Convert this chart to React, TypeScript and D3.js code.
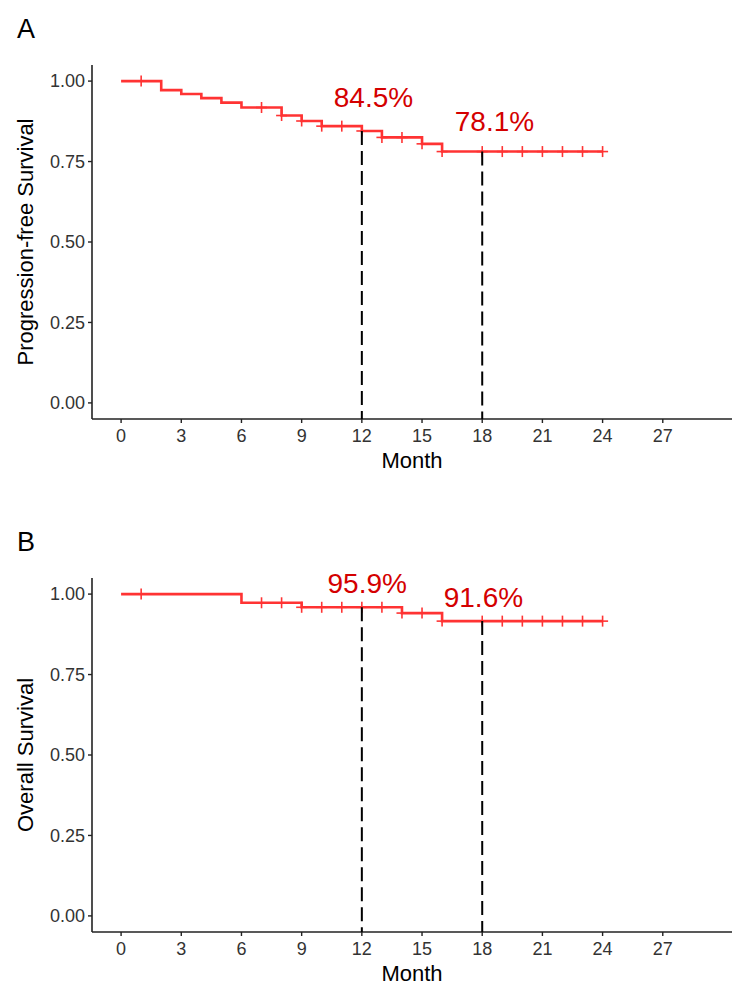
import React from "react";
import * as d3 from "d3";

// ---- Data ----
const pfsTimes = [0, 2, 3, 4, 5, 6, 8, 9, 10, 12, 13, 15, 16];
const pfsSurv = [1.0, 0.972, 0.96, 0.947, 0.933, 0.918, 0.893, 0.876, 0.86, 0.845, 0.825, 0.805, 0.781];
const pfsEnd = 24;
const pfsCensor = [1, 7, 8, 9, 10, 11, 12, 13, 14, 15, 16, 18, 19, 20, 21, 22, 23, 24];

const osTimes = [0, 6, 9, 14, 16];
const osSurv = [1.0, 0.973, 0.959, 0.941, 0.916];
const osEnd = 24;
const osCensor = [1, 7, 8, 9, 10, 11, 12, 13, 14, 15, 16, 18, 19, 20, 21, 22, 23, 24];

const markTimes = [12, 18];
const pfsLabels = ["84.5%", "78.1%"];
const pfsLabelX = [12.58, 18.61];
const pfsLabelY = [0.921, 0.844];
const osLabels = ["95.9%", "91.6%"];
const osLabelX = [12.27, 18.06];
const osLabelY = [1.002, 0.961];

const xTicks = [0, 3, 6, 9, 12, 15, 18, 21, 24, 27];
const yTicks = [0, 0.25, 0.5, 0.75, 1.0];
const yTickLabels = ["0.00", "0.25", "0.50", "0.75", "1.00"];

const FONT = "'Liberation Sans', Arial, Helvetica, sans-serif";
const CURVE = "#ff3333";
const LABEL = "#d40000";

function survAt(times: number[], surv: number[], t: number) {
  let v = surv[0];
  for (let i = 0; i < times.length; i++) if (times[i] <= t) v = surv[i];
  return v;
}

type PanelProps = {
  top: number;
  letter: string;
  yTitle: string;
  times: number[];
  surv: number[];
  end: number;
  censor: number[];
  labels: string[];
  labelX: number[];
  labelY: number[];
};

function Panel(p: PanelProps) {
  const left = 92, right = 732;
  const ptop = p.top, pbottom = p.top + 354;
  const x = d3.scaleLinear().domain([-1.45, 30.45]).range([left, right]);
  const y = d3.scaleLinear().domain([-0.05, 1.05]).range([pbottom, ptop]);

  const pts: [number, number][] = p.times.map((t, i) => [t, p.surv[i]]);
  pts.push([p.end, p.surv[p.surv.length - 1]]);
  const line = d3
    .line<[number, number]>()
    .x((d) => x(d[0]))
    .y((d) => y(d[1]))
    .curve(d3.curveStepAfter);

  return (
    <g>
      <text x={17} y={p.top - 27} fontSize={27} fontFamily={FONT} fill="#000">
        {p.letter}
      </text>
      {/* axes */}
      <line x1={left} x2={left} y1={ptop} y2={pbottom} stroke="#222" strokeWidth={1.6} />
      <line x1={left} x2={right} y1={pbottom} y2={pbottom} stroke="#222" strokeWidth={1.6} />
      {yTicks.map((t, i) => (
        <g key={"y" + i}>
          <line x1={left - 4} x2={left} y1={y(t)} y2={y(t)} stroke="#222" strokeWidth={1.4} />
          <text
            x={left - 7}
            y={y(t)}
            dy="0.35em"
            textAnchor="end"
            fontSize={18}
            fontFamily={FONT}
            fill="#333"
          >
            {yTickLabels[i]}
          </text>
        </g>
      ))}
      {xTicks.map((t) => (
        <g key={"x" + t}>
          <line x1={x(t)} x2={x(t)} y1={pbottom} y2={pbottom + 4} stroke="#222" strokeWidth={1.4} />
          <text
            x={x(t)}
            y={pbottom + 23}
            textAnchor="middle"
            fontSize={18}
            fontFamily={FONT}
            fill="#333"
          >
            {t}
          </text>
        </g>
      ))}
      <text
        x={(left + right) / 2}
        y={pbottom + 49}
        textAnchor="middle"
        fontSize={22}
        fontFamily={FONT}
        fill="#000"
      >
        Month
      </text>
      <text
        transform={`translate(${33},${(ptop + pbottom) / 2}) rotate(-90)`}
        textAnchor="middle"
        fontSize={22}
        fontFamily={FONT}
        fill="#000"
      >
        {p.yTitle}
      </text>
      {/* curve */}
      <path d={line(pts) || ""} fill="none" stroke={CURVE} strokeWidth={2.6} />
      {p.censor.map((t, i) => {
        const v = survAt(p.times, p.surv, t);
        return (
          <g key={"c" + i} stroke={CURVE} strokeWidth={1.6}>
            <line x1={x(t)} x2={x(t)} y1={y(v) - 5.5} y2={y(v) + 5.5} />
            <line x1={x(t) - 5.5} x2={x(t) + 5.5} y1={y(v)} y2={y(v)} />
          </g>
        );
      })}
      {/* dashed reference lines */}
      {markTimes.map((t, i) => (
        <line
          key={"m" + i}
          x1={x(t)}
          x2={x(t)}
          y1={y(survAt(p.times, p.surv, t))}
          y2={pbottom}
          stroke="#000"
          strokeWidth={2}
          strokeDasharray="14,6"
        />
      ))}
      {p.labels.map((l, i) => (
        <text
          key={"l" + i}
          x={x(p.labelX[i])}
          y={y(p.labelY[i])}
          textAnchor="middle"
          fontSize={28}
          fontFamily={FONT}
          fill={LABEL}
        >
          {l}
        </text>
      ))}
    </g>
  );
}

export default function App() {
  return (
    <svg
      width={744}
      height={995}
      style={{ position: "absolute", left: 0, top: 0, background: "#fff" }}
    >
      <rect width={744} height={995} fill="#fff" />
      <Panel
        top={65}
        letter="A"
        yTitle="Progression-free Survival"
        times={pfsTimes}
        surv={pfsSurv}
        end={pfsEnd}
        censor={pfsCensor}
        labels={pfsLabels}
        labelX={pfsLabelX}
        labelY={pfsLabelY}
      />
      <Panel
        top={578}
        letter="B"
        yTitle="Overall Survival"
        times={osTimes}
        surv={osSurv}
        end={osEnd}
        censor={osCensor}
        labels={osLabels}
        labelX={osLabelX}
        labelY={osLabelY}
      />
    </svg>
  );
}
